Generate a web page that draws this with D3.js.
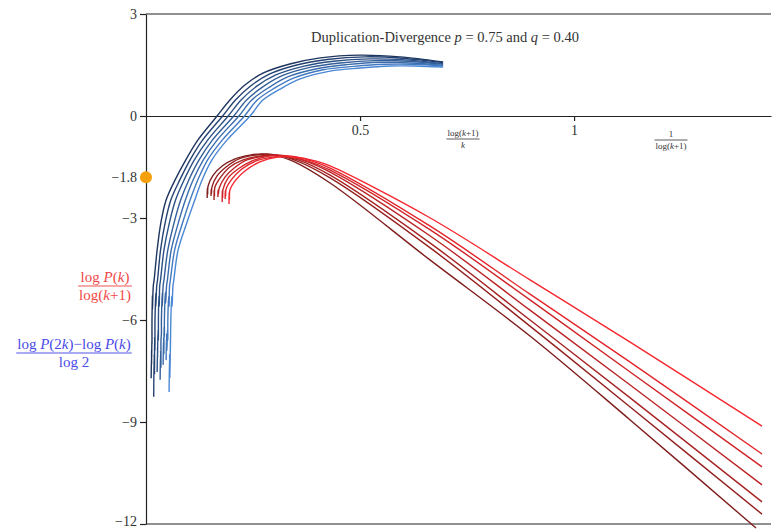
<!DOCTYPE html>
<html>
<head>
<meta charset="utf-8">
<script src="https://cdn.jsdelivr.net/npm/d3@7"></script>
<style>
  body { margin: 0; background: #fff; }
  svg text { font-family: "Liberation Serif", "DejaVu Serif", serif; }
</style>
</head>
<body>
<div id="chart"></div>
<script>
// y ticks and x ticks
var yTicks = [3, 0, -1.8, -3, -6, -9, -12];
var xTicks = [0.5, 1];
var markedValue = -1.8;

// blue curves: (log P(2k) - log P(k)) / log 2, darkest first
var blueSeries = [
  [[.012,-7.71],[.013,-6.9],[.013,-7.3],[.014,-6.4],[.014,-6.7],[.014,-6.0],[.015,-5.3],[.015,-5.7],[.017,-5.0],[.019,-4.82],[.026,-3.94],[.035,-3.12],[.047,-2.47],[.068,-1.88],[.093,-1.29],[.121,-0.71],[.166,0],[.196,.47],[.231,.91],[.273,1.26],[.336,1.53],[.407,1.71],[.500,1.79],[.593,1.74],[.694,1.59]],
  [[.018,-8.26],[.019,-7.0],[.020,-7.6],[.020,-6.5],[.021,-6.9],[.021,-6.0],[.023,-5.2],[.023,-5.6],[.025,-5.0],[.027,-4.82],[.034,-3.94],[.045,-3.12],[.058,-2.47],[.079,-1.88],[.103,-1.29],[.132,-0.71],[.179,0],[.209,.47],[.245,.89],[.288,1.23],[.352,1.50],[.423,1.66],[.512,1.74],[.599,1.70],[.694,1.57]],
  [[.026,-7.53],[.027,-6.8],[.027,-7.1],[.028,-6.3],[.029,-6.6],[.029,-6.0],[.030,-5.3],[.031,-5.6],[.032,-5.0],[.034,-4.82],[.042,-3.94],[.055,-3.12],[.069,-2.47],[.089,-1.88],[.113,-1.29],[.144,-0.71],[.192,0],[.222,.47],[.258,.87],[.302,1.20],[.367,1.46],[.438,1.61],[.523,1.68],[.605,1.65],[.694,1.54]],
  [[.033,-7.76],[.034,-6.9],[.035,-7.4],[.035,-6.6],[.036,-6.4],[.036,-6.0],[.038,-5.2],[.038,-5.6],[.040,-5.0],[.042,-4.82],[.051,-3.94],[.066,-3.12],[.081,-2.47],[.100,-1.88],[.124,-1.29],[.155,-0.71],[.205,0],[.235,.47],[.272,.85],[.317,1.18],[.383,1.43],[.454,1.56],[.535,1.63],[.611,1.61],[.694,1.52]],
  [[.040,-7.32],[.041,-6.5],[.042,-7.0],[.042,-6.2],[.043,-6.5],[.043,-6.0],[.045,-5.2],[.046,-5.5],[.048,-5.0],[.050,-4.82],[.059,-3.94],[.076,-3.12],[.092,-2.47],[.110,-1.88],[.134,-1.29],[.166,-0.71],[.217,0],[.247,.47],[.286,.83],[.331,1.15],[.399,1.39],[.469,1.51],[.547,1.58],[.617,1.56],[.694,1.49]],
  [[.047,-7.18],[.048,-6.4],[.049,-6.9],[.050,-6.3],[.051,-6.6],[.051,-6.0],[.053,-5.3],[.054,-5.6],[.055,-5.0],[.057,-4.82],[.067,-3.94],[.086,-3.12],[.103,-2.47],[.121,-1.88],[.144,-1.29],[.178,-0.71],[.230,0],[.260,.47],[.299,.81],[.346,1.12],[.414,1.36],[.485,1.46],[.558,1.52],[.623,1.52],[.694,1.47]],
  [[.054,-8.12],[.055,-7.0],[.056,-7.7],[.057,-6.6],[.057,-6.9],[.058,-6.0],[.060,-5.3],[.061,-5.6],[.063,-5.0],[.065,-4.82],[.075,-3.94],[.096,-3.12],[.114,-2.47],[.131,-1.88],[.154,-1.29],[.189,-0.71],[.243,0],[.273,.47],[.313,.79],[.360,1.09],[.430,1.32],[.500,1.41],[.570,1.47],[.629,1.47],[.694,1.44]]
];

// red curves: log P(k) / log(k+1), darkest first
var redSeries = [
  [[.143,-2.41],[.143,-2.12],[.144,-2.30],[.145,-2.06],[.157,-1.74],[.178,-1.47],[.208,-1.26],[.243,-1.15],[.278,-1.12],[.336,-1.29],[.430,-1.97],[.664,-4.24],[.897,-6.47],[1.131,-8.94],[1.425,-12.12]],
  [[.152,-2.35],[.152,-2.15],[.153,-2.28],[.154,-2.09],[.166,-1.76],[.187,-1.50],[.217,-1.26],[.255,-1.15],[.290,-1.12],[.346,-1.29],[.430,-1.82],[.664,-3.88],[.897,-6.18],[1.131,-8.56],[1.439,-11.71]],
  [[.159,-2.47],[.159,-2.18],[.160,-2.35],[.161,-2.09],[.175,-1.79],[.196,-1.50],[.227,-1.29],[.264,-1.18],[.301,-1.15],[.355,-1.29],[.430,-1.74],[.664,-3.74],[.897,-6.0],[1.131,-8.29],[1.439,-11.35]],
  [[.168,-2.38],[.168,-2.18],[.169,-2.30],[.171,-2.12],[.185,-1.79],[.206,-1.53],[.236,-1.29],[.276,-1.18],[.313,-1.15],[.364,-1.29],[.430,-1.65],[.664,-3.53],[.897,-5.71],[1.131,-7.91],[1.439,-10.85]],
  [[.178,-2.53],[.178,-2.2],[.179,-2.4],[.180,-2.15],[.192,-1.82],[.215,-1.56],[.248,-1.32],[.287,-1.18],[.327,-1.18],[.376,-1.32],[.430,-1.59],[.664,-3.35],[.897,-5.41],[1.131,-7.53],[1.439,-10.32]],
  [[.185,-2.44],[.185,-2.2],[.186,-2.35],[.187,-2.15],[.201,-1.85],[.224,-1.56],[.257,-1.32],[.297,-1.21],[.339,-1.18],[.386,-1.32],[.430,-1.53],[.664,-3.24],[.897,-5.24],[1.131,-7.24],[1.439,-9.94]],
  [[.194,-2.59],[.194,-2.25],[.195,-2.45],[.196,-2.18],[.210,-1.88],[.234,-1.59],[.266,-1.35],[.308,-1.21],[.350,-1.21],[.395,-1.32],[.430,-1.47],[.664,-3.0],[.897,-4.82],[1.131,-6.65],[1.439,-9.12]]
];

var blueColors = ['#1d355f', '#244272', '#2b5085', '#335e99', '#3a6cac', '#4279c0', '#4a87d4'];
var redColors = ['#7f1d1d', '#93201f', '#a72222', '#bb2325', '#cf2428', '#e3252b', '#f6262e'];

var width = 775, height = 529;

var svg = d3.select('#chart')
    .append('svg')
    .attr('width', width)
    .attr('height', height);

var x = d3.scaleLinear().domain([0, 1.46]).range([146, 771]);
var y = d3.scaleLinear().domain([-12, 3]).range([524, 14]);

var line = d3.line()
    .x(function (d) { return x(d[0]); })
    .y(function (d) { return y(d[1]); })
    .curve(d3.curveCatmullRom.alpha(0.5));

// frame lines (top, bottom)
svg.append('line')
    .attr('x1', x(0)).attr('x2', x(1.46))
    .attr('y1', y(3)).attr('y2', y(3))
    .attr('stroke', '#222').attr('stroke-width', 1.2);
svg.append('line')
    .attr('x1', x(0)).attr('x2', x(1.46))
    .attr('y1', y(-12)).attr('y2', y(-12))
    .attr('stroke', '#222').attr('stroke-width', 1.2);

// y axis
var yAxis = svg.append('g')
    .attr('transform', 'translate(' + x(0) + ',0)')
    .call(d3.axisLeft(y).tickValues(yTicks).tickSize(6).tickSizeOuter(0)
        .tickFormat(function (d) { return d3.format('')(d); }));
yAxis.select('.domain').attr('stroke', '#222').attr('stroke-width', 1.2);
yAxis.selectAll('.tick line').attr('stroke', '#222').attr('stroke-width', 1.2);
yAxis.selectAll('.tick text')
    .attr('font-family', '"Liberation Serif", serif')
    .attr('font-size', 14)
    .attr('fill', '#333')
    .attr('x', -9)
    .attr('dy', function (d) { return d === -12 ? '0.12em' : '0.32em'; });

// x axis on the zero line
var xAxis = svg.append('g')
    .attr('transform', 'translate(0,' + y(0) + ')')
    .call(d3.axisBottom(x).tickValues(xTicks).tickSize(5).tickSizeOuter(0)
        .tickFormat(function (d) { return d3.format('')(d); }));
xAxis.select('.domain').attr('stroke', '#222').attr('stroke-width', 1.2);
xAxis.selectAll('.tick line').attr('stroke', '#222').attr('stroke-width', 1.2);
xAxis.selectAll('.tick text')
    .attr('font-family', '"Liberation Serif", serif')
    .attr('font-size', 14)
    .attr('fill', '#333')
    .attr('y', 9);

// curves
svg.append('g').selectAll('path.blue').data(blueSeries).enter()
    .append('path')
    .attr('class', 'blue')
    .attr('d', line)
    .attr('fill', 'none')
    .attr('stroke', function (d, i) { return blueColors[i]; })
    .attr('stroke-width', 1.4);

svg.append('g').selectAll('path.red').data(redSeries).enter()
    .append('path')
    .attr('class', 'red')
    .attr('d', line)
    .attr('fill', 'none')
    .attr('stroke', function (d, i) { return redColors[i]; })
    .attr('stroke-width', 1.4);

// marked point on the y axis
svg.append('circle')
    .attr('cx', x(0)).attr('cy', y(markedValue))
    .attr('r', 6)
    .attr('fill', '#f5a00a');

// title
var title = svg.append('text')
    .attr('x', 445).attr('y', 42)
    .attr('text-anchor', 'middle')
    .attr('font-size', 14.5)
    .attr('fill', '#333');
title.append('tspan').text('Duplication-Divergence ');
title.append('tspan').attr('font-style', 'italic').text('p');
title.append('tspan').text(' = 0.75 and ');
title.append('tspan').attr('font-style', 'italic').text('q');
title.append('tspan').text(' = 0.40');

// fraction helper: parts are [text, italic]
function fraction(cx, ly, num, den, size, color) {
    var g = svg.append('g');
    function put(parts, baseY) {
        var t = g.append('text')
            .attr('x', cx).attr('y', baseY)
            .attr('text-anchor', 'middle')
            .attr('font-size', size)
            .attr('fill', color);
        parts.forEach(function (p) {
            t.append('tspan').attr('font-style', p[1] ? 'italic' : 'normal').text(p[0]);
        });
        return t.node().getComputedTextLength();
    }
    var w1 = put(num, ly - size * 0.28);
    var w2 = put(den, ly + size * 0.95);
    var w = Math.max(w1, w2) + 2;
    g.append('line')
        .attr('x1', cx - w / 2).attr('x2', cx + w / 2)
        .attr('y1', ly).attr('y2', ly)
        .attr('stroke', color).attr('stroke-width', Math.max(0.8, size / 16));
}

fraction(105, 286, [['log ', 0], ['P', 1], ['(', 0], ['k', 1], [')', 0]],
    [['log(', 0], ['k', 1], ['+1)', 0]], 15, '#f04848');
fraction(74, 353, [['log ', 0], ['P', 1], ['(2', 0], ['k', 1], [')\u2212log ', 0], ['P', 1], ['(', 0], ['k', 1], [')', 0]],
    [['log 2', 0]], 15, '#4a4ae8');
fraction(463, 139, [['log(', 0], ['k', 1], ['+1)', 0]], [['k', 1]], 9, '#333');
fraction(671, 140, [['1', 0]], [['log(', 0], ['k', 1], ['+1)', 0]], 9, '#333');
</script>
</body>
</html>
